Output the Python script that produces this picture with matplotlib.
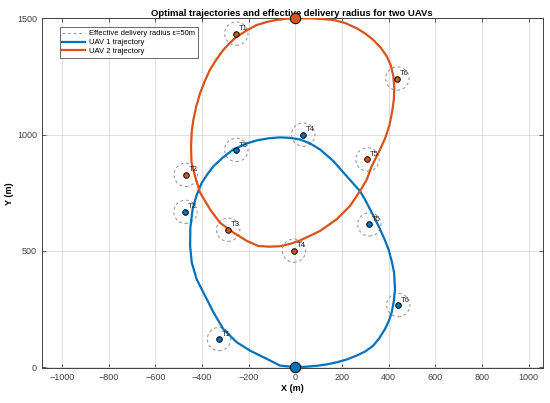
import numpy as np
import matplotlib
matplotlib.use('Agg')
import matplotlib.pyplot as plt
from matplotlib.patches import Circle

plt.rcParams['font.family'] = ['Liberation Sans', 'DejaVu Sans']

# target positions (m)
uav1_tx = [-327, -471, -253, 34, 317, 441]
uav1_ty = [121, 668, 934, 1000, 614, 267]
uav2_tx = [-253, -470, -288, -6, 309, 437]
uav2_ty = [1434, 827, 591, 501, 893, 1241]
target_names = ['T1', 'T2', 'T3', 'T4', 'T5', 'T6']
eps = 50

# start points
uav1_start = (0, 0)
uav2_start = (0, 1500)

# trajectories
uav1_x = [0, -66, -123, -194, -251, -309, -351, -387, -423, -444, -451,
          -450, -440, -423, -401, -375, -351, -310, -266, -208, -166, -115,
          -66, -23, 20, 63, 106, 163, 220, 277, 300, 320, 342, 363, 382,
          399, 413, 423, 427, 422, 413, 400, 384, 360, 334, 300, 263, 220,
          177, 135, 92, 45, 0]
uav1_y = [0, 7, 36, 71, 107, 164, 236, 307, 378, 450, 521,
          600, 680, 740, 793, 832, 864, 902, 936, 962, 975, 984,
          988, 986, 979, 962, 936, 886, 821, 757, 718, 679, 636, 593, 550,
          507, 455, 407, 336, 285, 236, 198, 164, 125, 93, 68, 50, 33,
          21, 12, 6, 2, 0]

uav2_x = [0, 63, 115, 163, 215, 263, 300, 334, 365, 392, 410, 420, 424,
          422, 415, 403, 385, 363, 327, 306, 277, 234, 177, 106, 63, 20,
          -23, -66, -110, -159, -208, -266, -323, -366, -408, -430, -445,
          -447, -444, -437, -425, -408, -388, -366, -339, -309, -280, -251,
          -210, -166, -120, -80, -40, 0]
uav2_y = [1500, 1500, 1497, 1493, 1479, 1457, 1434, 1407, 1375, 1336, 1295,
          1250, 1200, 1150, 1100, 1040, 985, 936, 864, 807, 757, 693, 636,
          586, 565, 545, 530, 520, 518, 521, 543, 579, 621, 679, 750, 821,
          880, 950, 1014, 1064, 1120, 1179, 1230, 1279, 1322, 1364, 1395,
          1421, 1447, 1471, 1485, 1493, 1498, 1500]

blue = '#0072BD'
orange = '#D95319'

fig = plt.figure(figsize=(5.5, 4.03), dpi=100)
ax = fig.add_axes([0.0758, 0.086, 0.911, 0.8686])

for tx, ty in [(uav1_tx, uav1_ty), (uav2_tx, uav2_ty)]:
    for x, y in zip(tx, ty):
        ax.add_patch(Circle((x, y), eps, fill=False, ls=(0, (2.5, 2.5)),
                            ec='#9a9a9a', lw=0.8, zorder=2))

# dummy handle for legend
ax.plot([], [], ls=(0, (2.5, 2.5)), color='#9a9a9a', lw=0.8,
        label='Effective delivery radius \u03b5=50m')
ax.plot(uav1_x, uav1_y, color=blue, lw=1.6, label='UAV 1 trajectory', zorder=3)
ax.plot(uav2_x, uav2_y, color=orange, lw=1.6, label='UAV 2 trajectory', zorder=3)

for tx, ty, c in [(uav1_tx, uav1_ty, blue), (uav2_tx, uav2_ty, orange)]:
    ax.plot(tx, ty, 'o', ms=4, mfc=c, mec='k', mew=0.7, ls='none', zorder=4)
    for x, y, n in zip(tx, ty, target_names):
        ax.text(x + 12, y + 6, n, fontsize=5.5, color='#222222',
                ha='left', va='bottom', zorder=5)

ax.plot(*uav1_start, 'o', ms=7.5, mfc=blue, mec='k', mew=0.7, zorder=6, clip_on=False)
ax.plot(*uav2_start, 'o', ms=7.5, mfc=orange, mec='k', mew=0.7, zorder=6, clip_on=False)

ax.set_xlim(-1087, 1060)
ax.set_ylim(-5, 1500)
ax.set_xticks(np.arange(-1000, 1001, 200))
ax.set_yticks([0, 500, 1000, 1500])
ax.grid(True, color='#d9d9d9', lw=0.6)
ax.set_axisbelow(True)
ax.tick_params(direction='in', top=True, right=True, labelsize=6.5,
               colors='#404040', length=3, width=0.6)
for s in ax.spines.values():
    s.set_color('#404040')
    s.set_linewidth(0.7)

ax.set_title('Optimal trajectories and effective delivery radius for two UAVs',
             fontsize=6.8, fontweight='bold', pad=2)
ax.set_xlabel('X (m)', fontsize=6.5, fontweight='bold', labelpad=1)
ax.set_ylabel('Y (m)', fontsize=6.5, fontweight='bold', labelpad=2)

leg = ax.legend(loc='upper left', fontsize=5.5, frameon=True, fancybox=False,
                edgecolor='#262626', borderpad=0.35, handlelength=3.0,
                labelspacing=0.2, handletextpad=0.5,
                bbox_to_anchor=(0.028, 0.985))
leg.get_frame().set_linewidth(0.6)

fig.savefig('out.png', dpi=100, facecolor='white')
